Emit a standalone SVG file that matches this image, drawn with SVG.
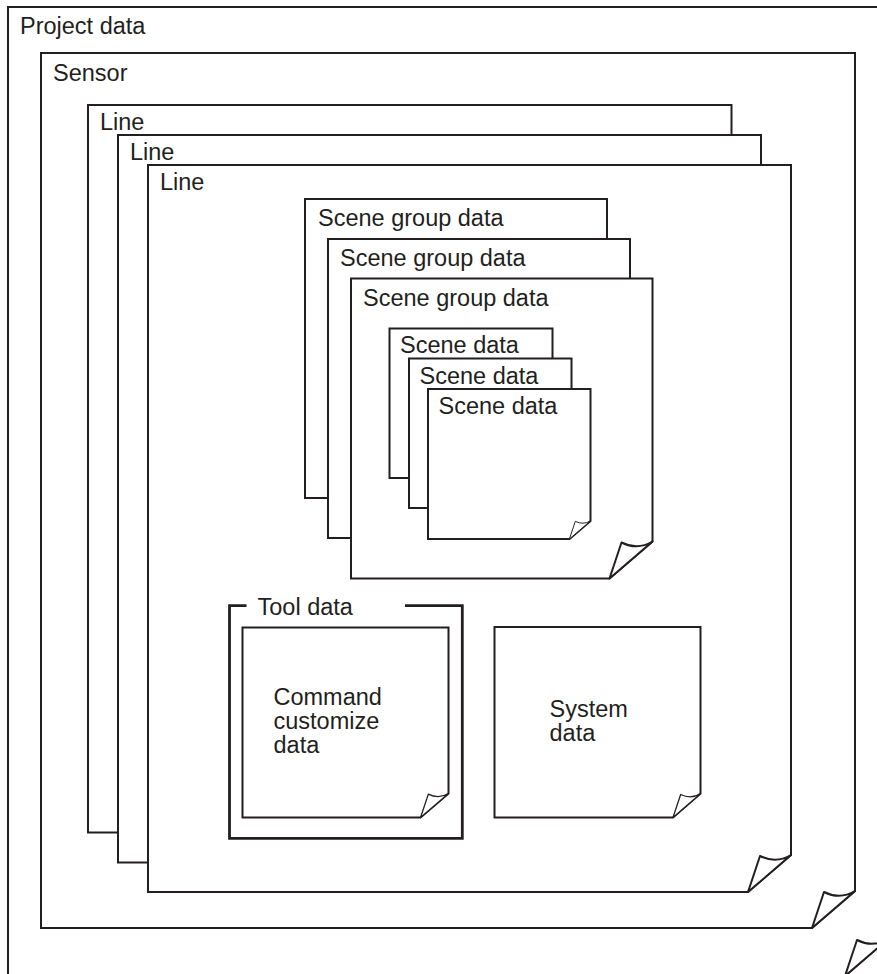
<svg xmlns="http://www.w3.org/2000/svg" width="877" height="974" viewBox="0 0 877 974">
<style>
.box{fill:#fff;stroke:#231f20;stroke-width:2;stroke-linejoin:miter}
.flap{fill:#fff;stroke:#231f20;stroke-width:2;stroke-linejoin:round;vector-effect:non-scaling-stroke}
.bracket{fill:none;stroke:#231f20;stroke-width:2.8}
text{font-family:"Liberation Sans",Arial,Helvetica,sans-serif;font-size:23.5px;fill:#231f20}
</style>
<defs>
<path id="curl" d="M -43,0 L -31,-36 Q -15,-28 0,-37 Z"/>
</defs>
<rect width="877" height="974" fill="#fff"/>
<g id="project">
<path class="box" d="M 8,7 H 888 V 939 L 845,976 H 8 Z"/>
<use href="#curl" class="flap" transform="translate(888,976)"/>
<text x="20" y="34">Project data</text>
</g>
<g id="sensor">
<path class="box" d="M 41,53 H 855 V 891 L 812,928 H 41 Z"/>
<use href="#curl" class="flap" transform="translate(855,928)"/>
<text x="53" y="81">Sensor</text>
</g>
<g id="line1">
<rect class="box" x="88" y="105" width="643.5" height="727.5"/>
<text x="100" y="130">Line</text>
</g>
<g id="line2">
<rect class="box" x="118" y="135" width="643" height="727.5"/>
<text x="130" y="159.5">Line</text>
</g>
<g id="line3">
<path class="box" d="M 148,165 H 791 V 855 L 748,892 H 148 Z"/>
<use href="#curl" class="flap" transform="translate(791,892)"/>
<text x="160" y="189.5">Line</text>
</g>
<g id="scenegroup1">
<rect class="box" x="305" y="199" width="302" height="299"/>
<text x="318" y="226">Scene group data</text>
</g>
<g id="scenegroup2">
<rect class="box" x="328" y="239" width="302" height="299"/>
<text x="340" y="266">Scene group data</text>
</g>
<g id="scenegroup3">
<path class="box" d="M 351,278.5 H 652.5 V 541.5 L 609.5,578.5 H 351 Z"/>
<use href="#curl" class="flap" transform="translate(652.5,578.5)"/>
<text x="363" y="305.5">Scene group data</text>
</g>
<g id="scene1">
<rect class="box" x="389.5" y="328.5" width="163" height="149.5"/>
<text x="400" y="353">Scene data</text>
</g>
<g id="scene2">
<rect class="box" x="409" y="358.5" width="162.5" height="149.5"/>
<text x="419.5" y="384">Scene data</text>
</g>
<g id="scene3">
<path class="box" d="M 428,389 H 590.5 V 521 L 569.5,539 H 428 Z"/>
<use href="#curl" class="flap" transform="translate(590.5,539) scale(0.49)"/>
<text x="438.5" y="414">Scene data</text>
</g>
<g id="tooldata">
<path class="bracket" d="M 246.5,605.7 H 229.5 V 838.3 H 462.3 V 605.7 H 405"/>
<text x="257.5" y="615">Tool data</text>
</g>
<g id="command">
<path class="box" d="M 242.5,627.5 H 448.5 V 793.5 L 420.5,817.5 H 242.5 Z"/>
<use href="#curl" class="flap" transform="translate(448.5,817.5) scale(0.65)"/>
<text x="273.5" y="705">Command</text>
<text x="273.5" y="729">customize</text>
<text x="273.5" y="753">data</text>
</g>
<g id="system">
<path class="box" d="M 494.5,627 H 700.5 V 793.5 L 673,817.5 H 494.5 Z"/>
<use href="#curl" class="flap" transform="translate(700.5,817.5) scale(0.64)"/>
<text x="549.5" y="717">System</text>
<text x="549.5" y="741">data</text>
</g>
<g id="connectors"></g>
</svg>
